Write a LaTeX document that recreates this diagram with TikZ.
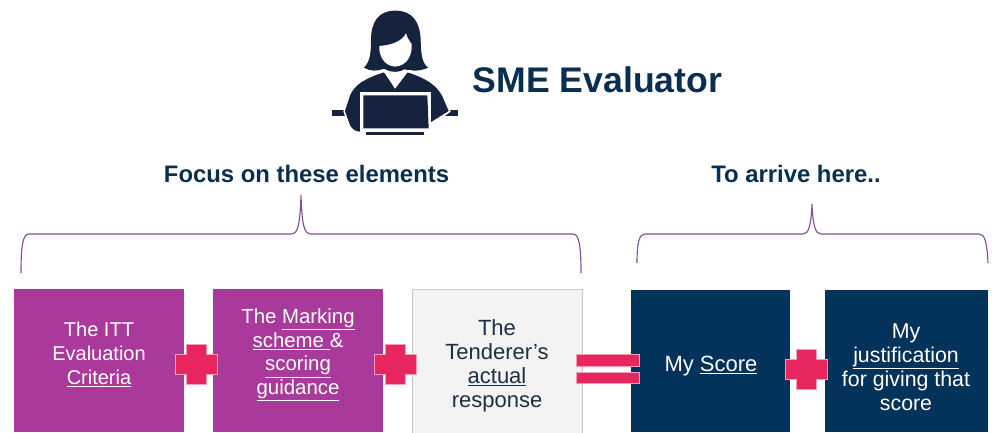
\documentclass[tikz,border=0pt]{standalone}
\usepackage{fontspec}
\setmainfont{Liberation Sans}
\definecolor{navy}{HTML}{03325A}
\definecolor{headcol}{HTML}{0A2E50}
\definecolor{icon}{HTML}{16233F}
\definecolor{plum}{HTML}{A9399A}
\definecolor{rosey}{HTML}{E8265E}
\definecolor{lilac}{HTML}{84509A}
\definecolor{pale}{HTML}{F3F3F3}
\definecolor{inkdark}{HTML}{1B2F45}
\newcommand{\ul}[1]{\underline{#1}}
\tikzset{
  heading/.style={text=headcol,font=\bfseries\fontsize{17.9pt}{20pt}\selectfont,inner sep=0pt},
  brace/.style={draw=lilac,line width=0.85pt},
  sign/.style={fill=rosey,draw=rosey!45!white,line width=0.5pt},
  txt/.style={align=center,inner sep=0pt},
  plumfill/.style={fill=plum},
  navyfill/.style={fill=navy}
}
\begin{document}
\begin{tikzpicture}[x=0.75pt,y=-0.75pt]
\useasboundingbox[fill=white] (0,0) rectangle (994,432);
% boxes
\path[plumfill] (14,289) rectangle (184,432);
\path[plumfill] (213,289) rectangle (383,432);
\path[fill=pale,draw=black!22,line width=0.6pt] (412,289.5) rectangle (582,433);
\path[navyfill] (631,290) rectangle (790,432);
\path[navyfill] (825,290) rectangle (988,432);
\node[txt,text=white,font=\fontsize{15pt}{18pt}\selectfont] (itt) at (99,354.5) {The ITT\\Evaluation\\\ul{Criteria}};
\node[txt,text=white,font=\fontsize{15.3pt}{17.8pt}\selectfont] (mark) at (298,355) {The \ul{Marking}\\\ul{scheme }\&\\\ul{scoring}\\\ul{guidance}};
\node[txt,text=inkdark,font=\fontsize{16.5pt}{18pt}\selectfont] (tend) at (497,365.5) {The\\Tenderer’s\\\ul{actual}\\response};
\node[txt,text=white,font=\fontsize{16.5pt}{18pt}\selectfont] (score) at (711,366) {My \ul{Score}};
\node[txt,text=white,font=\fontsize{16pt}{18pt}\selectfont] (just) at (906,367) {My\\\ul{justification}\\for giving that\\score};
% signs
\foreach \cx/\cy in {196/364.5,395.5/364.5,806.5/369}{
  \path[sign] (\cx-10,\cy-20) -- (\cx+10,\cy-20) -- (\cx+10,\cy-10) -- (\cx+21,\cy-10) -- (\cx+21,\cy+10) -- (\cx+10,\cy+10) -- (\cx+10,\cy+20) -- (\cx-10,\cy+20) -- (\cx-10,\cy+10) -- (\cx-21,\cy+10) -- (\cx-21,\cy-10) -- (\cx-10,\cy-10) -- cycle;
}
\path[sign] (576,354) rectangle (639,366);
\path[sign] (576,372) rectangle (639,383);
% headings
\node[heading,font=\bfseries\fontsize{26.7pt}{28pt}\selectfont] (title) at (597.5,80) {SME Evaluator};
\node[heading] (focus) at (306.5,174) {Focus on these elements};
\node[heading] (arrive) at (796,174) {To arrive here..};
% braces
\coordinate (a1) at (21,273); \coordinate (a2) at (301,195); \coordinate (a3) at (581,273);
\coordinate (b1) at (637,263); \coordinate (b2) at (812,204); \coordinate (b3) at (988,263);
\draw[brace] (a1) .. controls (21,245) and (23,234) .. (29,234) -- (291,234) .. controls (298,234) and (300,225) .. (a2) .. controls (302,225) and (304,234) .. (311,234) -- (573,234) .. controls (579,234) and (581,245) .. (a3);
\draw[brace] (b1) .. controls (637,243) and (639,234) .. (645,234) -- (803,234) .. controls (809,234) and (811,225) .. (b2) .. controls (813,225) and (815,234) .. (821,234) -- (979,234) .. controls (985,234) and (987,243) .. (b3);
% icon
\begin{scope}[shift={(320,0)},x=0.25pt,y=-0.25pt]
% hair
\fill[icon] (132,203) .. controls (150,185) and (153,160) .. (153,120) .. controls (153,65) and (176,32) .. (225,32) .. controls (280,32) and (300,68) .. (302,120) .. controls (303,160) and (305,188) .. (324,203) .. controls (300,214) and (275,214) .. (250,207) -- (190,207) .. controls (170,214) and (150,214) .. (132,203) -- cycle;
% table
\fill[icon] (35,331) rectangle (415,348);
% body halo and body
\fill[white] (70,335) -- (84,285) .. controls (100,250) and (130,232) .. (188,210) -- (272,210) .. controls (320,232) and (350,250) .. (370,285) -- (392,335) -- (332,378) -- (120,402) -- (93,395) -- cycle;
\fill[icon] (75,333) -- (90,287) .. controls (103,255) and (133,236) .. (192,217) -- (225,256) -- (262,217) .. controls (320,236) and (347,254) .. (366,287) -- (386,333) -- (330,368) -- (330,395) -- (120,395) .. controls (105,395) and (95,385) .. (90,375) -- cycle;
% white collar
\fill[white] (188,210) -- (268,210) -- (225,266) -- cycle;
% face
\fill[white] (178,138) .. controls (215,135) and (245,125) .. (258,100) .. controls (262,115) and (270,125) .. (275,132) .. controls (277,165) and (262,198) .. (225,200) .. controls (195,198) and (176,170) .. (178,138) -- cycle;
% shadow under chin
\fill[icon] (194,189) .. controls (205,205) and (245,205) .. (258,187) -- (262,200) .. controls (245,220) and (208,220) .. (190,203) -- cycle;
% laptop
\fill[white] (120,276) rectangle (334,402);
\fill[icon] (130,286) -- (322,286) -- (326,385) -- (130,385) -- cycle;
\fill[icon] (138,396) rectangle (312,405);
\end{scope}
\end{tikzpicture}
\end{document}
